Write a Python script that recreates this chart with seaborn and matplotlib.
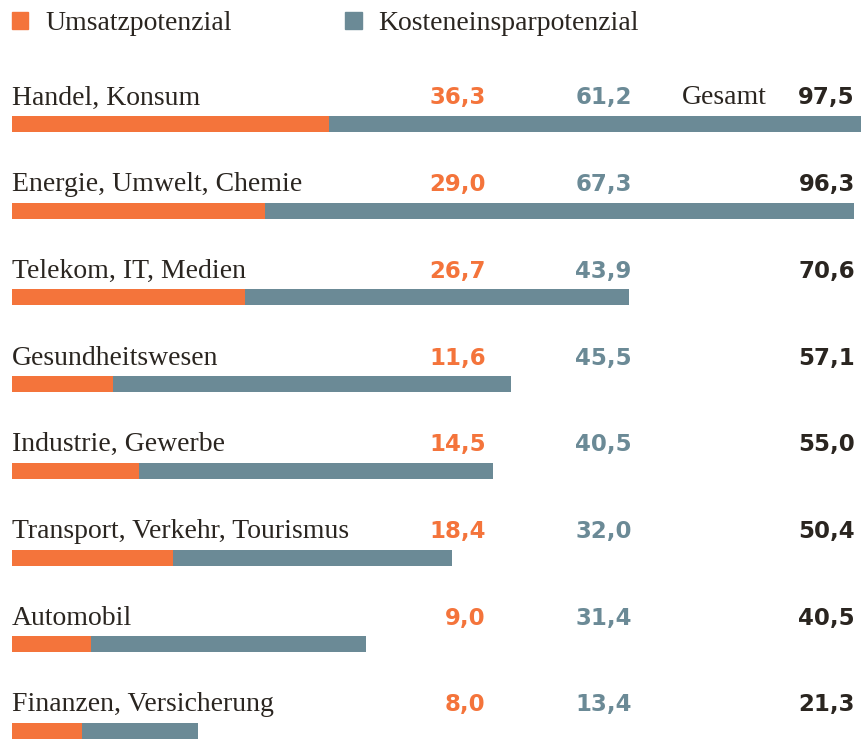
import matplotlib
matplotlib.use("Agg")
import matplotlib.pyplot as plt
import matplotlib.patches as mpatches
import seaborn as sns

sns.set_theme(style="white")
plt.rcParams['font.family'] = ['Liberation Serif', 'DejaVu Serif']

# Data
branchen = ["Handel, Konsum", "Energie, Umwelt, Chemie", "Telekom, IT, Medien",
            "Gesundheitswesen", "Industrie, Gewerbe", "Transport, Verkehr, Tourismus",
            "Automobil", "Finanzen, Versicherung"]
umsatz = [36.3, 29.0, 26.7, 11.6, 14.5, 18.4, 9.0, 8.0]
kosten = [61.2, 67.3, 43.9, 45.5, 40.5, 32.0, 31.4, 13.4]
gesamt = [97.5, 96.3, 70.6, 57.1, 55.0, 50.4, 40.5, 21.3]

ORANGE = "#F4743B"
GRAU = "#6B8A96"
DUNKEL = "#2A2520"

def fmt(v):
    return f"{v:.1f}".replace(".", ",")

fig = plt.figure(figsize=(8.61, 7.39), dpi=100)
ax = fig.add_axes([0, 0, 1, 1])

# total bar in grey, orange part drawn on top -> stacked look
sns.barplot(x=gesamt, y=branchen, orient="h", color=GRAU, width=0.185,
            saturation=1, linewidth=0, ax=ax)
sns.barplot(x=umsatz, y=branchen, orient="h", color=ORANGE, width=0.185,
            saturation=1, linewidth=0, ax=ax)

ax.set_xlim(-1.373, 97.14)
ax.set_ylim(7.093, -1.430)
ax.axis("off")

for i, name in enumerate(branchen):
    ty = i - 0.30
    ax.text(0, ty, name, fontsize=20, color=DUNKEL, ha="left", va="center")
    ax.text(54.2, ty, fmt(umsatz[i]), fontsize=16.5, color=ORANGE, ha="right",
            va="center", family="DejaVu Sans", weight="bold")
    ax.text(70.9, ty, fmt(kosten[i]), fontsize=16.5, color=GRAU, ha="right",
            va="center", family="DejaVu Sans", weight="bold")
    ax.text(96.45, ty, fmt(gesamt[i]), fontsize=16.5, color=DUNKEL, ha="right",
            va="center", family="DejaVu Sans", weight="bold")
    if i == 0:
        ax.text(86.4, ty, "Gesamt", fontsize=20, color=DUNKEL, ha="right", va="center")

handles = [mpatches.Patch(color=ORANGE, label="Umsatzpotenzial"),
           mpatches.Patch(color=GRAU, label="Kosteneinsparpotenzial")]
fig.legend(handles=handles, loc="center left", bbox_to_anchor=(4 / 861, 1 - 24 / 739),
           ncol=2, frameon=False, fontsize=20, handlelength=0.58, handleheight=0.58,
           handletextpad=0.6, columnspacing=4.1, borderaxespad=0, borderpad=0.3,
           labelcolor=DUNKEL)

fig.savefig("out.png", dpi=100)
